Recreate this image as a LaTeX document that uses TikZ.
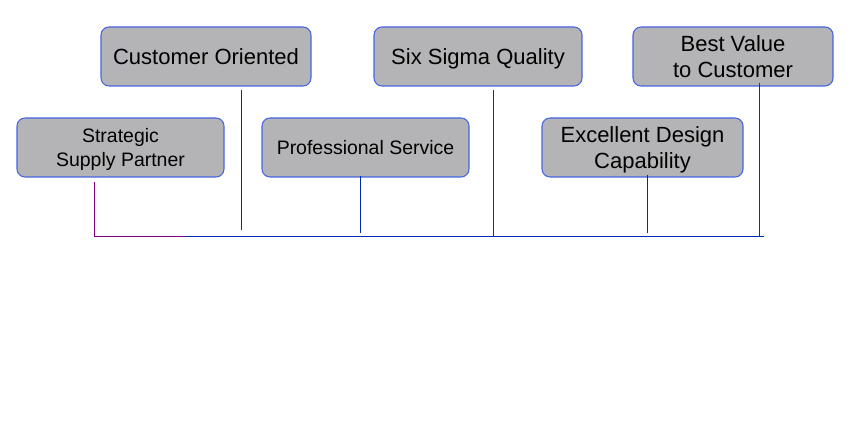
\documentclass[tikz,border=0pt]{standalone}
\usepackage{fontspec}
\setmainfont{Liberation Sans}
\usetikzlibrary{calc}
\definecolor{boxfill}{RGB}{180,180,182}
\definecolor{boxline}{RGB}{70,100,225}
\definecolor{linkblue}{RGB}{0,40,180}
\definecolor{linkpurple}{RGB}{128,0,128}
\tikzset{
  goal/.style={draw = boxline, fill = boxfill, rounded corners = 6pt, line width = 0.8pt, minimum height = 44.25pt, align = center, inner sep = 0pt, text depth = -2.2pt, font = \fontsize{16.5}{20}\selectfont},
  goalsmall/.style={goal, font = \fontsize{14.6}{17.5}\selectfont},
  bluelink/.style={linkblue, line width = 0.75pt},
  purplelink/.style={linkpurple, line width = 0.75pt}
}

\begin{document}
\begin{tikzpicture}[x = 0.75pt, y = -0.75pt]
            \useasboundingbox (0, 0) rectangle (849, 423);

            \node[goal, minimum width = 157.5pt] (customer) at (206, 56.5) {Customer Oriented};
            \node[goal, minimum width = 156pt] (sigma) at (478, 56.5) {Six Sigma Quality};
            \node[goal, minimum width = 150pt] (value) at (733, 56.5) {Best Value\\to Customer};
            \node[goalsmall, minimum width = 155.25pt] (strategic) at (120.5, 147.5) {Strategic\\Supply Partner};
            \node[goalsmall, minimum width = 155.25pt] (professional) at (365.5, 147.5) {Professional Service};
            \node[goal, minimum width = 150.75pt] (design) at (642.5, 147.5) {Excellent Design\\Capability};

            \coordinate (strategicfoot) at (94, 237);
            \coordinate (customerfoot) at (241, 230);
            \coordinate (professionalfoot) at (360, 233);
            \coordinate (sigmafoot) at (493, 237);
            \coordinate (designfoot) at (647, 233);
            \coordinate (valuefoot) at (759, 237);
            \coordinate (busbreak) at (186, 237);
            \coordinate (busend) at (764, 237);

            \draw[purplelink](strategicfoot) -- (busbreak);
            \draw[bluelink](busbreak) -- (busend);

            \draw[purplelink]($(strategic.south -| strategicfoot) + (0, 4)$) -- (strategicfoot);
            \draw[bluelink]($(customer.south -| customerfoot) + (0, 3)$) -- (customerfoot);
            \draw[bluelink]($(professional.south -| professionalfoot) + (0, -2)$) -- (professionalfoot);
            \draw[purplelink]($(sigma.south -| sigmafoot) + (0, 3)$) -- (sigmafoot);
            \draw[bluelink]($(design.south -| designfoot) + (0, -3)$) -- (designfoot);
            \draw[purplelink]($(value.south -| valuefoot) + (0, -4)$) -- (valuefoot);
        \end{tikzpicture}
\end{document}
